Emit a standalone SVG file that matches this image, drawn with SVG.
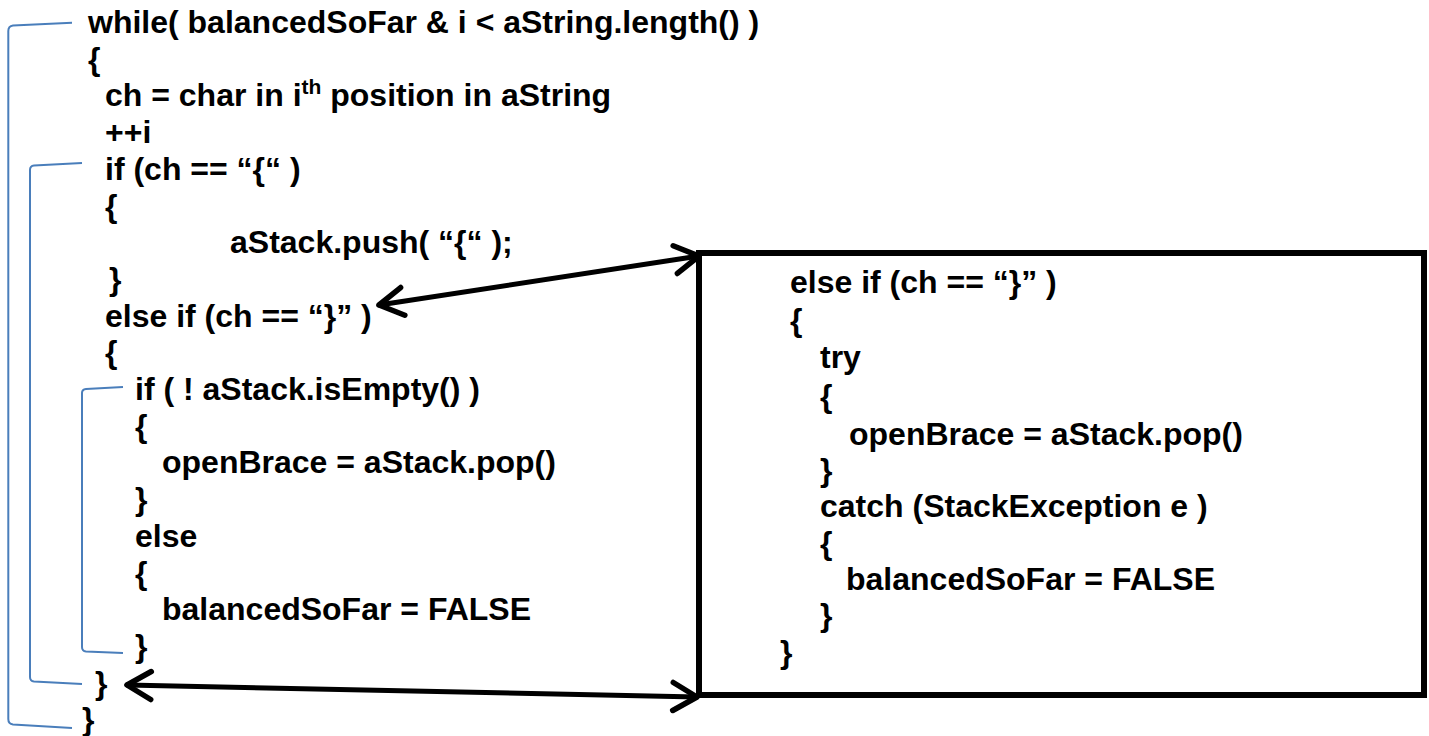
<svg xmlns="http://www.w3.org/2000/svg" width="1429" height="736" viewBox="0 0 1429 736">
<defs>
<style>
text{font-family:"Liberation Sans",Arial,sans-serif;font-weight:bold;font-size:32px;fill:#000;}
.sup{font-size:21px;}
.br{fill:none;stroke:#4A7EBB;stroke-width:2;}
.arr{fill:none;stroke:#000;stroke-width:5;stroke-linecap:round;}
.box{fill:#fff;stroke:#000;stroke-width:6;}
</style>
<marker id="ah" markerUnits="userSpaceOnUse" viewBox="-32 -18 36 36" refX="0" refY="0" markerWidth="36" markerHeight="36" orient="auto-start-reverse">
<path d="M-24,-14 L0,0 L-24,14" fill="none" stroke="#000" stroke-width="5.5" stroke-linecap="round" stroke-linejoin="round"/>
</marker>
</defs>
<rect width="1429" height="736" fill="#fff"/>
<g id="brackets">
<path class="br" d="M72,22.7 L13,25.5 Q8.3,26 8.3,31 L8.3,719 Q8.3,724 13,724.5 L72,728"/>
<path class="br" d="M82,163 L34,165.5 Q30,166 30,170 L30,677 Q30,681 34,681.5 L82,684"/>
<path class="br" d="M123,387 L86,389 Q82,389.5 82,393 L82,647 Q82,651 86,651.5 L123,653"/>
</g>
<g id="code">
<text x="88" y="33">while( balancedSoFar &amp; i &lt; aString.length() )</text>
<text x="88" y="69.7">{</text>
<text x="105" y="106.4">ch = char in i<tspan class="sup" dy="-12">th</tspan><tspan dy="12"> position in aString</tspan></text>
<text x="105" y="143.1">++i</text>
<text x="105" y="179.8">if (ch == “{“ )</text>
<text x="105" y="216.5">{</text>
<text x="230" y="253.2">aStack.push( “{“ );</text>
<text x="109" y="289.9">}</text>
<text x="105" y="326.6">else if (ch == “}” )</text>
<text x="105" y="363.3">{</text>
<text x="135" y="400">if ( ! aStack.isEmpty() )</text>
<text x="135" y="436.7">{</text>
<text x="162" y="473.4">openBrace = aStack.pop()</text>
<text x="135" y="510.1">}</text>
<text x="135" y="546.8">else</text>
<text x="135" y="583.5">{</text>
<text x="162" y="620.2">balancedSoFar = FALSE</text>
<text x="135" y="656.9">}</text>
<text x="95" y="693.6">}</text>
<text x="82" y="730.3">}</text>
</g>
<g id="box">
<rect class="box" x="699" y="253" width="725" height="442"/>
<text x="790" y="293">else if (ch == “}” )</text>
<text x="790" y="331">{</text>
<text x="820" y="368">try</text>
<text x="820" y="407">{</text>
<text x="849" y="445">openBrace = aStack.pop()</text>
<text x="820" y="481">}</text>
<text x="820" y="517">catch (StackException e )</text>
<text x="820" y="554">{</text>
<text x="846" y="590">balancedSoFar = FALSE</text>
<text x="820" y="626">}</text>
<text x="780" y="663">}</text>
</g>
<g id="connectors">
<line class="arr" x1="379" y1="305" x2="699" y2="256" marker-start="url(#ah)" marker-end="url(#ah)"/>
<line class="arr" x1="127" y1="685" x2="697" y2="697" marker-start="url(#ah)" marker-end="url(#ah)"/>
</g>
</svg>
